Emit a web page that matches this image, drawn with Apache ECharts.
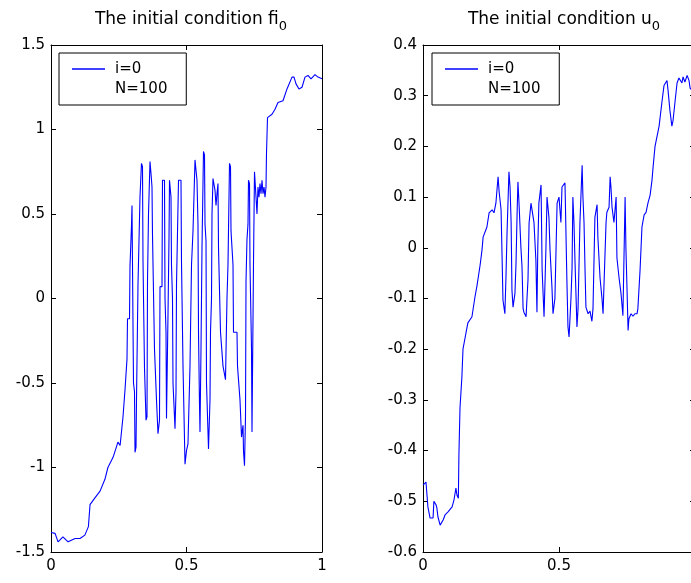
<!DOCTYPE html>
<html>
<head>
<meta charset="utf-8">
<script src="https://cdn.jsdelivr.net/npm/echarts@6/dist/echarts.min.js"></script>
<style>html,body{margin:0;padding:0;background:#fff}#c{width:691px;height:583px}</style>
</head>
<body>
<div id="c"></div>
<script>
// ---- data ----
const titleLeft = 'The initial condition fi';
const titleRight = 'The initial condition u';
const titleSub = '0';
const seriesName = 'i=0';
const legendExtra = 'N=100';

const xTicksMin = 0, xTicksMax = 1, xTicksStep = 0.5;
const yLeftMin = -1.5, yLeftMax = 1.5, yLeftStep = 0.5;
const yRightMin = -0.6, yRightMax = 0.4, yRightStep = 0.1;

// left panel: fi_0
const fiX = [0,0.015,0.026,0.044,0.063,0.089,0.107,0.125,0.132,0.138,0.144,0.162,0.181,0.199,0.21,0.229,0.247,0.255,
0.2620,0.2657,0.2712,0.2731,0.2786,0.2804,0.2823,0.2897,0.2915,0.2952,0.2970,0.2989,0.3026,0.3044,0.3081,0.3100,0.3137,0.3155,
0.3192,0.3210,0.3266,0.3284,0.3321,0.3339,0.3376,0.3395,0.3432,0.3450,0.3487,0.3506,0.3542,0.3561,0.3598,0.3635,0.3653,0.3690,
0.3727,0.3745,0.3801,0.3819,0.3875,0.3893,0.3930,0.3948,0.4004,0.4022,0.4096,0.4114,0.4188,0.4207,0.4244,0.4262,0.4299,0.4317,
0.4354,0.4373,0.4428,0.4446,0.4483,0.4502,0.4557,0.4576,0.4613,0.4631,0.4686,0.4705,0.4797,0.4815,0.4852,0.4871,0.4926,0.4945,
0.5000,0.5055,0.5111,0.5129,0.5166,0.5185,0.5240,0.5295,0.5314,0.5369,0.5387,0.5424,0.5443,0.5480,0.5498,0.5535,0.5572,0.5609,
0.5627,0.5664,0.5683,0.5720,0.5738,0.5793,0.5812,0.5867,0.5886,0.5923,0.5941,0.5978,0.6015,0.6052,0.6089,0.6125,0.6162,0.6181,
0.6236,0.6255,0.6347,0.6439,0.6476,0.6494,0.6531,0.6568,0.6587,0.6624,0.6642,0.6716,0.6734,0.6863,0.6882,0.6974,0.7030,0.7085,
0.7103,0.7140,0.7177,0.7196,0.7232,0.7269,0.7288,0.7325,0.7343,0.7399,0.7417,0.7454,0.7472,0.7509,0.7546,0.7565,0.7601,0.7638,
0.7675,0.7712,0.7749,0.7786,0.7823,0.7860,0.7897,0.7934,0.7952,0.7989,0.8155,0.8266,0.8376,0.8561,0.8708,0.8893,0.8967,0.9041,
0.9151,0.9262,0.9373,0.9483,0.9594,0.9742,0.9852,1.0];
const fiY = [-1.385,-1.39,-1.44,-1.41,-1.44,-1.42,-1.42,-1.40,-1.41,-1.35,-1.22,-1.18,-1.14,-1.07,-1.0,-0.94,-0.85,-0.87,
-0.875,-0.70,-0.70,-0.54,-0.54,-0.36,-0.12,-0.12,0.19,0.19,0.43,0.55,0.55,-0.5,-0.55,-0.91,-0.88,-0.6,
-0.6,0.08,0.08,0.6,0.6,0.8,0.78,0.22,0.22,-0.41,-0.41,-0.72,-0.7,0.1,0.5,0.5,0.81,0.74,
0.66,0.38,0.38,-0.3,-0.3,-0.6,-0.6,-0.8,-0.72,0.07,0.07,0.7,0.7,0.0,-0.2,-0.71,-0.71,-0.1,
0.35,0.7,0.6,0.2,0.0,-0.5,-0.5,-0.77,-0.55,0.08,0.08,0.7,0.7,0.22,0.22,-0.4,-0.4,-0.98,
-0.9,-0.86,-0.86,-0.4,-0.4,0.2,0.4,0.4,0.82,0.82,0.7,0.44,-0.2,-0.63,-0.79,-0.3,0.3,0.3,
0.87,0.85,0.44,0.34,-0.5,-0.5,-0.89,-0.6,-0.2,0.0,0.5,0.71,0.71,0.64,0.55,0.62,0.68,0.3,
0.29,-0.2,-0.4,-0.48,-0.48,0.0,0.2,0.2,0.8,0.78,0.4,0.2,-0.2,-0.2,-0.4,-0.6,-0.82,-0.75,
-0.9,-0.99,-0.7,0.1,0.35,0.44,0.7,0.68,0.2,-0.3,-0.79,-0.79,0.2,0.75,0.74,0.6,0.5,0.66,
0.6,0.68,0.62,0.7,0.62,0.66,0.6,0.66,0.86,1.07,1.09,1.12,1.16,1.17,1.24,1.31,1.31,1.27,
1.24,1.25,1.31,1.32,1.3,1.325,1.31,1.30];

// right panel: u_0
const uX = [0,0.004,0.011,0.015,0.018,0.026,0.037,0.04,0.048,0.051,0.055,0.063,0.074,0.081,0.092,0.107,0.114,0.121,0.125,0.13,
0.132,0.136,0.143,0.147,0.158,0.165,0.18,0.191,0.199,0.21,0.217,0.221,0.235,0.243,0.254,0.261,0.268,0.276,0.28,0.287,
0.29,0.294,0.301,0.305,0.309,0.316,0.32,0.324,0.327,0.331,0.338,0.342,0.346,0.349,0.353,0.36,0.364,0.368,0.371,0.379,
0.382,0.386,0.39,0.397,0.401,0.408,0.415,0.419,0.422,0.426,0.434,0.438,0.445,0.449,0.452,0.456,0.463,0.467,0.474,0.478,
0.485,0.493,0.5,0.507,0.511,0.522,0.529,0.533,0.537,0.544,0.548,0.551,0.555,0.559,0.566,0.57,0.577,0.585,0.588,0.592,
0.596,0.599,0.607,0.614,0.621,0.625,0.632,0.64,0.643,0.651,0.658,0.662,0.665,0.673,0.676,0.684,0.688,0.691,0.695,0.702,
0.71,0.713,0.721,0.728,0.735,0.743,0.746,0.75,0.754,0.757,0.765,0.772,0.779,0.787,0.79,0.798,0.805,0.813,0.82,0.827,
0.835,0.842,0.846,0.853,0.86,0.868,0.879,0.886,0.897,0.901,0.908,0.915,0.919,0.926,0.934,0.941,0.952,0.956,0.963,0.971,
0.978,0.982,0.99,1.0];
const uY = [-0.468,-0.468,-0.462,-0.49,-0.511,-0.533,-0.533,-0.50,-0.507,-0.513,-0.531,-0.547,-0.537,-0.527,-0.521,-0.511,-0.497,-0.474,-0.488,-0.494,
-0.409,-0.316,-0.255,-0.20,-0.168,-0.148,-0.136,-0.097,-0.073,-0.034,-0.004,0.021,0.041,0.069,0.075,0.069,0.088,0.14,0.11,0.075,
0.0,-0.103,-0.13,-0.058,0.03,0.15,0.12,0.05,-0.083,-0.117,-0.09,-0.03,0.068,0.13,0.088,0.0,-0.037,-0.12,-0.127,-0.136,
-0.103,-0.063,0.049,0.088,0.09,0.05,-0.024,-0.127,0.0,0.088,0.124,-0.044,-0.136,-0.06,0.0,0.1,0.06,-0.004,-0.077,-0.13,
-0.1,0.088,0.1,0.05,0.12,0.128,-0.064,-0.156,-0.176,-0.1,-0.04,0.1,0.05,-0.03,-0.156,-0.12,0.05,0.163,0.1,0.05,
-0.05,-0.117,-0.13,-0.125,-0.145,-0.12,0.06,0.085,0.02,-0.06,-0.1,-0.13,-0.08,0.05,0.07,0.08,0.14,0.12,0.08,0.05,
0.1,-0.02,-0.06,-0.09,-0.134,0.1,0.0,-0.08,-0.163,-0.14,-0.13,-0.135,-0.13,-0.13,-0.12,-0.044,0.041,0.065,0.07,0.088,
0.104,0.134,0.16,0.2,0.2,0.24,0.29,0.32,0.33,0.31,0.27,0.24,0.25,0.285,0.325,0.335,0.325,0.337,0.327,0.34,
0.33,0.315,0.31,0.31];

// ---- chart ----
const FONT = 'DejaVu Sans';
const BLUE = '#0000ff';
const pairs = (xs, ys) => xs.map((x, i) => [x, ys[i]]);

function xAx(grid, pos) {
  return {
    gridIndex: grid, type: 'value', position: pos,
    min: xTicksMin, max: xTicksMax, interval: xTicksStep,
    axisLine: {show: true, onZero: false, lineStyle: {color: '#000', width: 1}},
    axisTick: {show: true, inside: true, length: 5, lineStyle: {color: '#000'}},
    axisLabel: {show: pos === 'bottom', margin: 7, fontSize: 15, fontFamily: FONT, color: '#000', hideOverlap: false},
    splitLine: {show: false}
  };
}
function yAx(grid, pos, mn, mx, st) {
  return {
    gridIndex: grid, type: 'value', position: pos,
    min: mn, max: mx, interval: st,
    axisLine: {show: true, onZero: false, lineStyle: {color: '#000', width: 1}},
    axisTick: {show: true, inside: true, length: 5, lineStyle: {color: '#000'}},
    axisLabel: {show: pos === 'left', margin: 6, fontSize: 15, fontFamily: FONT, color: '#000'},
    splitLine: {show: false}
  };
}
function legendAt(left) {
  return {
    left: left, top: 53, orient: 'vertical',
    data: [seriesName], icon: 'rect', itemWidth: 33, itemHeight: 1.3,
    padding: [8, 45, 28, 13],
    borderColor: '#000', borderWidth: 1, backgroundColor: '#fff',
    selectedMode: false,
    textStyle: {fontSize: 15, fontFamily: FONT, color: '#000', lineHeight: 16, padding: [0, 0, 0, 5]}
  };
}
const richTitle = {
  a: {fontSize: 17, fontFamily: FONT, fontWeight: 'normal', color: '#000', lineHeight: 26},
  s: {fontSize: 13, fontFamily: FONT, fontWeight: 'normal', color: '#000', lineHeight: 13, verticalAlign: 'bottom'}
};

const chart = echarts.init(document.getElementById('c'), null, {renderer: 'canvas'});
chart.setOption({
  backgroundColor: '#fff',
  animation: false,
  title: [
    {text: '{a|' + titleLeft + '}{s|' + titleSub + '}', left: 186, top: 2, textAlign: 'center',
     textStyle: {fontWeight: 'normal', rich: richTitle}},
    {text: '{a|' + titleRight + '}{s|' + titleSub + '}', left: 559, top: 2, textAlign: 'center',
     textStyle: {fontWeight: 'normal', rich: richTitle}}
  ],
  grid: [
    {left: 51, top: 45, width: 271, height: 507, outerBoundsMode: 'none', containLabel: false},
    {left: 423, top: 45, width: 272, height: 507, outerBoundsMode: 'none', containLabel: false}
  ],
  xAxis: [xAx(0, 'bottom'), xAx(0, 'top'), xAx(1, 'bottom'), xAx(1, 'top')],
  yAxis: [
    yAx(0, 'left', yLeftMin, yLeftMax, yLeftStep), yAx(0, 'right', yLeftMin, yLeftMax, yLeftStep),
    yAx(1, 'left', yRightMin, yRightMax, yRightStep), yAx(1, 'right', yRightMin, yRightMax, yRightStep)
  ],
  legend: [legendAt(59), legendAt(432)],
  graphic: [
    {type: 'text', left: 115, top: 82, z: 100, style: {text: legendExtra, fontSize: 15, fontFamily: FONT, fill: '#000'}},
    {type: 'text', left: 488, top: 82, z: 100, style: {text: legendExtra, fontSize: 15, fontFamily: FONT, fill: '#000'}}
  ],
  series: [
    {name: seriesName, type: 'line', xAxisIndex: 0, yAxisIndex: 0, data: pairs(fiX, fiY),
     showSymbol: false, symbol: 'none', lineStyle: {color: BLUE, width: 1.1}, itemStyle: {color: BLUE}, clip: true},
    {name: seriesName, type: 'line', xAxisIndex: 2, yAxisIndex: 2, data: pairs(uX, uY),
     showSymbol: false, symbol: 'none', lineStyle: {color: BLUE, width: 1.1}, itemStyle: {color: BLUE}, clip: true}
  ]
});
</script>
</body>
</html>
